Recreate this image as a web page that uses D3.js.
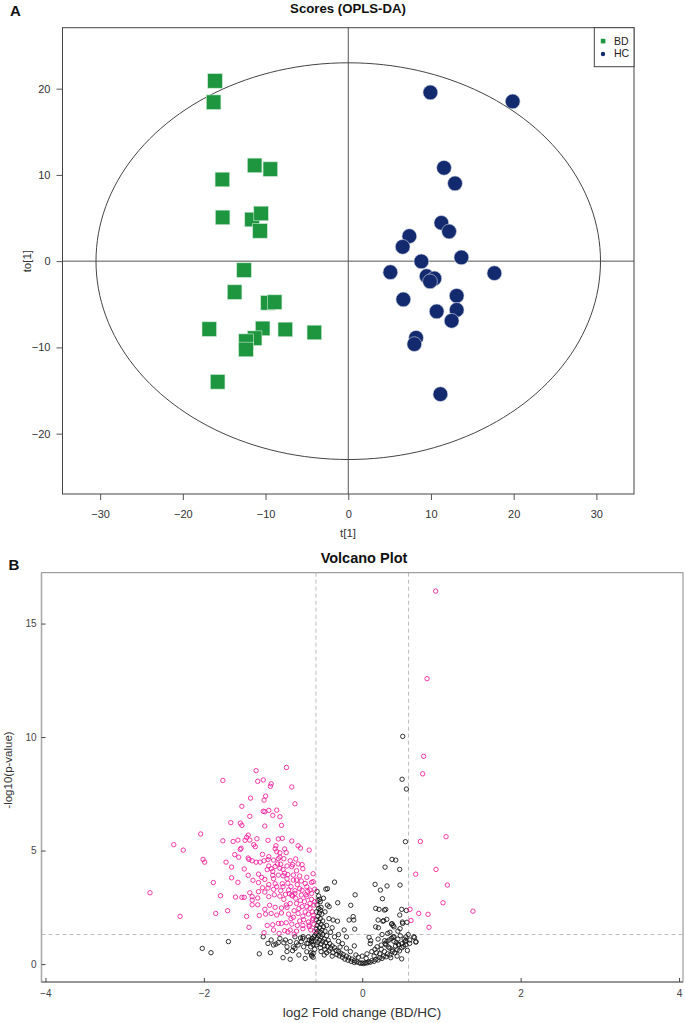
<!DOCTYPE html>
<html><head><meta charset="utf-8">
<script src="https://cdn.jsdelivr.net/npm/d3@7/dist/d3.min.js"></script>
<style>
html,body{margin:0;padding:0;background:#fff;}
svg{display:block;font-family:"Liberation Sans",Arial,sans-serif;}
</style></head>
<body>
<svg id="chart" width="685" height="1023"></svg>
<script>
// ---------------- DATA ----------------
// Panel A: OPLS-DA scores
const bdT  = [-16.11,-16.28,-11.32,-9.42,-15.22,-15.19,-11.63,-10.54,-10.67,-12.60,-13.74,-9.70,-8.90,-16.80,-10.35,-7.61,-4.10,-11.32,-12.36,-12.36,-15.79];
const bdTo = [20.90,18.43,11.10,10.67,9.47,5.07,4.83,5.53,3.51,-1.04,-3.59,-4.83,-4.75,-7.88,-7.80,-7.92,-8.27,-8.93,-9.28,-10.24,-13.99];
const hcT  = [9.93,19.88,11.58,12.91,11.26,12.19,7.39,6.58,8.84,13.68,5.09,17.67,9.48,10.41,9.89,13.11,6.66,13.11,10.69,12.50,8.20,7.99,11.14];
const hcTo = [19.56,18.52,10.82,9.01,4.44,3.44,2.90,1.66,-0.03,0.43,-1.28,-1.39,-1.74,-2.01,-2.35,-4.02,-4.44,-5.65,-5.83,-6.92,-8.89,-9.62,-15.42];
const groups = ["BD","HC"];
const scoreXTicks = [-30,-20,-10,0,10,20,30];
const scoreYTicks = [-20,-10,0,10,20];
const ellipseRadii = [30.5, 23.0]; // Hotelling T2 ellipse semi-axes (t, to)

// Panel B: volcano plot [log2FC, -log10(p)]
const sigPoints = [
[-0.957,8.66],[-1.34,8.52],[-1.76,8.09],[-1.32,8.05],[-1.25,8.11],[-1.15,7.94],[-1.16,7.83],[-0.89,7.80],[-1.22,7.40],[-1.41,7.31],
[-1.24,7.22],[-0.85,7.06],[-1.52,6.95],[-1.18,6.77],[-1.25,6.73],[-1.23,6.71],[-1.08,6.78],[-1.13,6.55],[-1.04,6.49],[-1.42,6.51],
[-1.66,6.23],[-1.54,6.21],[-1.52,6.11],[-1.23,6.08],[-1.02,6.11],[-2.04,5.73],[-1.44,5.68],[-1.33,5.52],[-1.46,5.58],[-1.42,5.46],
[-1.48,5.45],[-1.76,5.43],[-1.63,5.40],[-1.57,5.46],[-1.19,5.45],[-1.06,5.51],[-1.01,5.54],[-0.89,5.42],[-1.53,5.10],[-1.54,5.05],
[-1.37,5.26],[-1.35,5.17],[-0.81,5.21],[-0.78,5.11],[-0.67,5.02],[-2.38,5.26],[-2.26,5.02],[-1.09,5.21],[-1.10,5.08],[-0.98,5.07],
[-1.08,4.95],[-0.96,4.91],[-1.04,4.90],[-1.26,4.83],[-1.18,4.73],[-1.04,4.71],[-1.61,4.82],[-1.56,4.71],[-1.72,4.49],[-2.01,4.61],
[-1.99,4.49],[-1.44,4.67],[-1.43,4.61],[-1.39,4.55],[-1.34,4.49],[-1.29,4.49],[-1.24,4.55],[-1.19,4.60],[-1.12,4.58],[-1.06,4.64],
[-0.99,4.64],[-0.91,4.55],[-0.84,4.63],[-1.07,4.41],[-1.18,4.32],[-1.15,4.20],[-0.95,4.32],[-0.88,4.38],[-0.81,4.41],[-0.76,4.38],
[-1.65,4.27],[-1.49,4.19],[-1.20,4.16],[-1.13,4.08],[-1.04,4.22],[-1.00,4.17],[-0.89,4.29],[-0.83,4.11],[-0.75,4.20],[-0.62,3.98],
[-0.62,3.63],[-0.64,3.60],[-1.65,3.80],[-1.57,3.60],[-1.44,3.91],[-1.31,3.96],[-1.27,3.82],[-1.23,3.73],[-1.13,3.91],[-1.12,3.76],
[-1.06,3.92],[-1.00,3.89],[-0.94,3.94],[-0.87,3.92],[-0.79,3.88],[-0.70,3.82],[-1.88,3.59],[-1.38,3.69],[-1.31,3.59],[-1.18,3.50],
[-1.10,3.54],[-1.08,3.41],[-1.01,3.54],[-1.00,3.41],[-0.94,3.56],[-0.90,3.41],[-0.83,3.70],[-0.77,3.66],[-1.26,3.36],[-1.19,3.35],
[-1.12,3.29],[-1.03,3.23],[-0.93,3.26],[-0.85,3.23],[-0.79,3.32],[-0.70,3.41],[-0.66,3.26],[-2.68,3.14],[-1.79,3.01],[-1.60,2.95],
[-1.52,2.94],[-1.49,2.94],[-1.42,3.14],[-1.39,2.97],[-1.39,2.82],[-1.31,3.19],[-1.32,2.91],[-1.23,3.17],[-1.18,2.97],[-1.11,3.05],
[-1.04,2.99],[-0.97,3.07],[-0.89,3.04],[-0.85,3.11],[-0.77,3.04],[-0.70,2.97],[-0.64,3.11],[-1.39,2.61],[-1.32,2.61],[-1.23,2.41],
[-1.17,2.59],[-1.10,2.50],[-1.02,2.47],[-0.95,2.50],[-0.91,2.67],[-0.83,2.67],[-0.76,2.53],[-0.70,2.53],[-0.66,2.67],[-1.85,2.23],
[-1.70,2.35],[-1.46,2.10],[-1.30,2.14],[-1.22,2.20],[-1.15,2.23],[-1.08,2.16],[-1.02,2.25],[-0.93,2.20],[-0.87,2.06],[-0.81,2.23],
[-0.75,2.11],[-0.68,2.20],[-2.30,2.10],[-1.43,1.62],[-1.20,1.70],[-1.13,1.73],[-1.06,1.79],[-1.02,1.79],[-0.96,1.82],[-0.89,1.76],
[-0.82,1.70],[-0.75,1.70],[-0.67,1.72],[-0.63,1.94],[-1.24,1.38],[-1.12,1.50],[-1.05,1.35],[-0.98,1.47],[-0.91,1.50],[-0.83,1.45],
[-0.75,1.56],[-0.67,1.65],[-0.86,1.32],[-0.94,1.42],
[-0.62,2.0],[-0.63,2.3],[-0.61,2.6],[-0.64,2.85],[-0.60,3.3],[-0.65,1.5],[-0.68,1.85],[-0.72,2.3],[-0.73,2.75],[-0.71,3.05],
[-0.74,1.95],[-0.78,2.8],[-0.80,2.45],[-0.79,1.9],[-0.84,2.9],[-0.86,2.35],[-0.88,3.0],[-0.90,2.0],[-0.92,3.1],[-0.96,2.6],
[-0.99,2.85],[-0.60,1.45],[-0.61,1.75],[-0.66,2.45],[-0.69,3.2],[-0.76,3.25],[-0.82,3.5],[-0.87,3.7],[-0.95,3.75],[-0.98,4.0],
[-1.03,4.4],[-1.10,4.3],[-0.72,3.55],[-0.62,2.15],[-0.60,2.75],
[0.927,16.43],[0.818,12.57],[0.776,9.15],[0.763,8.38],[1.058,5.61],[0.734,5.40],[0.931,4.17],[0.675,3.96],[1.075,3.48],[1.02,2.70],
[1.398,2.33],[0.603,2.41],[0.713,2.23],[0.831,2.19],[0.616,1.92],[0.843,1.62]
];
const nsPoints = [
[-2.02,0.69],[-1.91,0.50],[-1.69,0.99],[-1.25,1.20],[-1.16,0.50],[-1.12,0.84],[-1.06,0.94],[-1.00,0.28],[-0.91,0.21],[-0.87,0.76],
[-0.85,0.69],[-0.83,0.94],[-0.77,0.99],[-0.70,0.91],[-0.65,0.50],[-0.63,1.13],[-0.68,1.20],[-1.04,1.13],[-0.97,1.06],[-0.75,1.13],
[-0.35,3.61],[-0.44,3.32],[-0.31,2.70],[-0.09,3.05],[-0.145,2.59],[-0.115,2.09],[-0.107,1.94],
[-1.19,0.91],[-1.15,1.06],[-1.09,0.88],[-0.99,0.94],[-0.95,0.76],[-0.91,0.99],[-0.88,0.59],[-0.81,0.84],[-0.74,0.76],
[-0.70,0.54],[-0.65,0.76],[-0.62,0.99],[-0.67,1.06],[-0.61,1.20],
[0.511,10.03],[0.503,8.14],[0.557,7.71],[0.545,5.39],[0.376,4.61],[0.423,4.58],[0.288,4.27],[0.473,4.17],[0.313,3.44],[0.477,3.48],
[0.229,3.26],[0.255,2.88],[0.28,2.38],[0.297,2.41],[0.498,2.41],[0.557,2.36],[0.473,2.16],[0.271,1.91],[0.376,1.78],[0.389,1.70],
[0.507,1.85],[0.565,1.84],[0.477,1.56],[0.322,1.35],[0.389,1.19],[0.65,1.20],[0.675,0.97],[0.549,1.03],[0.599,0.91],[0.284,1.03],
[0.313,1.0],[0.457,0.87],[0.381,0.62],[0.498,0.23],
[0.162,3.51],[0.17,2.45],[0.212,2.41],[-0.418,2.53],[-0.166,1.94],[-0.536,2.85],[-0.528,2.38],[-0.368,1.94],[-0.313,1.89],[-0.229,1.50],
[-0.095,1.54],[0.086,1.18],[0.107,1.03],[0.187,0.76],[0.204,1.60],[0.17,1.64],[0.20,1.94],[0.26,1.89],[0.31,1.97],[0.37,1.76],
[0.40,1.64],[0.51,1.79],[0.24,0.84],[0.29,0.91],[0.34,1.06],[0.37,1.13],[0.40,1.20],[0.46,0.84],[0.54,0.98],[0.60,1.06],
[0.66,1.17],[0.68,0.98],[-0.746,1.20],[-0.684,0.91],[-0.641,0.98],[-0.62,0.47],[-0.637,0.35],
[-0.57,3.2],[-0.55,3.0],[-0.56,2.8],[-0.53,2.75],[-0.57,2.6],[-0.52,2.5],[-0.55,2.45],[-0.58,2.3],[-0.54,2.25],[-0.51,2.2],
[-0.56,2.1],[-0.53,2.0],[-0.58,1.95],[-0.50,1.9],[-0.55,1.85],[-0.52,1.75],[-0.57,1.7],[-0.49,1.65],[-0.54,1.6],[-0.58,1.55],
[-0.51,1.5],[-0.56,1.45],[-0.47,1.45],[-0.53,1.4],[-0.58,1.35],[-0.50,1.3],[-0.55,1.25],[-0.45,1.25],[-0.52,1.2],[-0.57,1.15],
[-0.48,1.1],[-0.54,1.05],[-0.43,1.05],[-0.50,1.0],[-0.56,0.95],[-0.46,0.95],[-0.41,0.9],[-0.52,0.88],[-0.58,0.85],[-0.48,0.8],
[-0.44,0.78],[-0.38,0.8],[-0.53,0.72],[-0.40,0.7],[-0.35,0.72],[-0.47,0.65],[-0.33,0.6],[-0.42,0.58],[-0.30,0.55],[-0.37,0.5],
[-0.27,0.48],[-0.32,0.42],[-0.24,0.42],[-0.29,0.36],[-0.20,0.35],[-0.25,0.3],[-0.17,0.28],[-0.22,0.22],[-0.13,0.22],[-0.18,0.17],
[-0.10,0.15],[-0.14,0.12],[-0.07,0.1],[-0.10,0.07],[-0.04,0.06],[-0.02,0.03],[0,0.05],[0.02,0.02],[0.04,0.06],[0.06,0.05],
[0.08,0.1],[0.10,0.08],[0.12,0.15],[0.15,0.12],[0.17,0.2],[0.20,0.18],[0.22,0.28],[0.25,0.25],[0.27,0.35],[0.30,0.32],
[0.32,0.45],[0.35,0.4],[0.38,0.55],[0.41,0.5],[0.44,0.62],[0.47,0.58],[0.50,0.72],[0.52,0.78],[0.55,0.85],
[-0.45,0.5],[-0.38,0.35],[-0.30,1.0],[-0.25,0.9],[-0.20,0.7],[-0.15,0.55],[-0.08,0.4],[0,0.35],[0.06,0.45],[0.12,0.55],
[0.18,0.5],[0.24,0.65],[0.30,0.85],[0.35,0.7],[0.40,1.0],[0.45,1.1],[0.50,0.9],[0.55,1.2],[0.42,0.8],[-0.10,0.8],
[-0.20,1.2],[-0.35,1.2],[-0.40,1.4],[-0.45,1.7],[-0.42,2.0],[-0.47,2.3],[-0.44,2.6],[-0.49,2.9],[-0.46,3.3],[-0.38,1.6],
[-0.30,1.3],[0.10,0.9],[0.20,1.1],[0.25,1.3],[0.35,1.4],[0.45,1.45],[0.15,0.35],[0.28,0.55],[0.05,0.25],[-0.05,0.3],
[-0.28,0.75],[-0.52,0.55],[-0.48,0.4],[-0.62,0.3],[-0.60,0.65],[-0.62,0.85],[-0.64,1.05],[-0.60,1.25],[-0.72,0.25],[-0.80,0.4],
[-0.95,0.55],[-1.30,0.45],[-0.78,1.15],[-0.85,1.2],[-0.64,0.4],
[0.33,0.75],[0.43,0.95],[0.48,1.25],[0.53,1.1],[0.57,0.6],[0.36,0.28],[0.44,0.35],[0.58,1.3],[0.22,0.45],[0.16,0.65]
];
const volcXTicks = [-4,-2,0,2,4];
const volcYTicks = [0,5,10,15];
const fcCut = Math.log2(1.5);
const pCut = -Math.log10(0.05);

// ---------------- DRAW ----------------
const svg = d3.select("#chart");
svg.append("rect").attr("width",685).attr("height",1023).attr("fill","#fff");

// ===== Panel A =====
const A = {l:62.5, r:634, t:27.7, b:494};
const xA = d3.scaleLinear().domain([-34.55,34.55]).range([A.l,A.r]);
const yA = d3.scaleLinear().domain([-27,27.07]).range([A.b,A.t]);
const gA = svg.append("g");

gA.append("text").attr("x",10).attr("y",15.5).attr("font-size",15).attr("font-weight","bold").attr("fill","#111").text("A");
gA.append("text").attr("x",348).attr("y",12.5).attr("text-anchor","middle").attr("font-size",13.2).attr("font-weight","bold").attr("fill","#111").text("Scores (OPLS-DA)");

// cross lines
gA.append("line").attr("x1",xA(0)).attr("x2",xA(0)).attr("y1",A.t).attr("y2",A.b).attr("stroke","#555").attr("stroke-width",1);
gA.append("line").attr("x1",A.l).attr("x2",A.r).attr("y1",yA(0)).attr("y2",yA(0)).attr("stroke","#555").attr("stroke-width",1);

// ellipse
const ell = d3.range(0,361,2).map(a=>[ellipseRadii[0]*Math.cos(a*Math.PI/180), ellipseRadii[1]*Math.sin(a*Math.PI/180)]);
gA.append("path").attr("d", d3.line().x(d=>xA(d[0])).y(d=>yA(d[1]))(ell)).attr("fill","none").attr("stroke","#444").attr("stroke-width",1);

// points
const sq = 14.6;
gA.selectAll("rect.bd").data(bdT.map((t,i)=>[t,bdTo[i]])).join("rect").attr("class","bd")
  .attr("x",d=>xA(d[0])-sq/2).attr("y",d=>yA(d[1])-sq/2).attr("width",sq).attr("height",sq)
  .attr("fill","#1e9640").attr("stroke","#cfe9d5").attr("stroke-width",0.6);
gA.selectAll("circle.hc").data(hcT.map((t,i)=>[t,hcTo[i]])).join("circle").attr("class","hc")
  .attr("cx",d=>xA(d[0])).attr("cy",d=>yA(d[1])).attr("r",7.4)
  .attr("fill","#142a6e").attr("stroke","#d5dbe8").attr("stroke-width",0.6);

// box
gA.append("rect").attr("x",A.l).attr("y",A.t).attr("width",A.r-A.l).attr("height",A.b-A.t).attr("fill","none").attr("stroke","#444").attr("stroke-width",1);

// axes
const axA_x = gA.append("g").attr("transform",`translate(0,${A.b})`).call(d3.axisBottom(xA).tickValues(scoreXTicks).tickSize(6).tickPadding(10).tickSizeOuter(0));
const axA_y = gA.append("g").attr("transform",`translate(${A.l},0)`).call(d3.axisLeft(yA).tickValues(scoreYTicks).tickSize(6).tickPadding(6).tickSizeOuter(0));
[axA_x,axA_y].forEach(g=>{
  g.select(".domain").remove();
  g.selectAll("line").attr("stroke","#555");
  g.selectAll("text").attr("font-size",11).attr("fill","#333").attr("font-family","Liberation Sans, Arial, sans-serif");
});
gA.append("text").attr("x",348).attr("y",537).attr("text-anchor","middle").attr("font-size",11.5).attr("fill","#333").text("t[1]");
gA.append("text").attr("transform",`translate(31,${yA(0)}) rotate(-90)`).attr("text-anchor","middle").attr("font-size",11.5).attr("fill","#333").text("to[1]");

// legend
const lg = gA.append("g");
lg.append("rect").attr("x",594.3).attr("y",A.t).attr("width",A.r-594.3).attr("height",66.7-A.t).attr("fill","#fff").attr("stroke","#444").attr("stroke-width",1);
lg.append("rect").attr("x",600.8).attr("y",38.8).attr("width",4.6).attr("height",4.6).attr("fill","#1e9640");
lg.append("circle").attr("cx",603).attr("cy",54).attr("r",2.2).attr("fill","#142a6e");
lg.selectAll("text.lg").data(groups).join("text").attr("class","lg")
  .attr("x",614).attr("y",(d,i)=>45+i*11.5).attr("font-size",10.5).attr("fill","#222").text(d=>d);

// ===== Panel B =====
const B = {l:41.5, r:683, t:572.7, b:982};
const xB = d3.scaleLinear().domain([-4.05,4.05]).range([B.l,B.r]);
const yB = d3.scaleLinear().domain([-0.79,17.24]).range([B.b,B.t]);
const gB = svg.append("g");

gB.append("text").attr("x",8.5).attr("y",570).attr("font-size",15).attr("font-weight","bold").attr("fill","#111").text("B");
gB.append("text").attr("x",364).attr("y",563).attr("text-anchor","middle").attr("font-size",14.5).attr("font-weight","bold").attr("fill","#111").text("Volcano Plot");

// threshold lines
const dash = "4,3";
[-fcCut, fcCut].forEach(v=>{
  gB.append("line").attr("x1",xB(v)).attr("x2",xB(v)).attr("y1",B.t).attr("y2",B.b).attr("stroke","#bbb").attr("stroke-width",1).attr("stroke-dasharray",dash);
});
gB.append("line").attr("x1",B.l).attr("x2",B.r).attr("y1",yB(pCut)).attr("y2",yB(pCut)).attr("stroke","#bbb").attr("stroke-width",1).attr("stroke-dasharray",dash);

// points
gB.selectAll("circle.ns").data(nsPoints).join("circle").attr("class","ns")
  .attr("cx",d=>xB(d[0])).attr("cy",d=>yB(d[1])).attr("r",2.2)
  .attr("fill","none").attr("stroke","#111").attr("stroke-width",0.85);
gB.selectAll("circle.sig").data(sigPoints).join("circle").attr("class","sig")
  .attr("cx",d=>xB(d[0])).attr("cy",d=>yB(d[1])).attr("r",2.2)
  .attr("fill","none").attr("stroke","#f0189b").attr("stroke-width",0.85);

// box
gB.append("rect").attr("x",B.l).attr("y",B.t).attr("width",B.r-B.l).attr("height",B.b-B.t).attr("fill","none").attr("stroke","#888").attr("stroke-width",1);
gB.append("line").attr("x1",B.l).attr("x2",B.l).attr("y1",B.t).attr("y2",B.b).attr("stroke","#aaa").attr("stroke-width",1.6);
gB.append("line").attr("x1",B.l).attr("x2",B.r).attr("y1",B.b).attr("y2",B.b).attr("stroke","#666").attr("stroke-width",1);

const axB_x = gB.append("g").attr("transform",`translate(0,${B.b})`).call(d3.axisBottom(xB).tickValues(volcXTicks).tickSize(-4).tickPadding(7.5).tickSizeOuter(0));
const axB_y = gB.append("g").attr("transform",`translate(${B.l},0)`).call(d3.axisLeft(yB).tickValues(volcYTicks).tickSize(-4).tickPadding(5).tickSizeOuter(0));
[axB_x,axB_y].forEach(g=>{
  g.select(".domain").remove();
  g.selectAll("line").attr("stroke","#444");
  g.selectAll("text").attr("font-size",10).attr("fill","#444").attr("font-family","Liberation Sans, Arial, sans-serif");
});
gB.append("text").attr("x",362).attr("y",1017).attr("text-anchor","middle").attr("font-size",13.5).attr("fill","#333").text("log2 Fold change (BD/HC)");
gB.append("text").attr("transform",`translate(12,${770}) rotate(-90)`).attr("text-anchor","middle").attr("font-size",11.5).attr("fill","#333").text("-log10(p-value)");
</script>
</body></html>
